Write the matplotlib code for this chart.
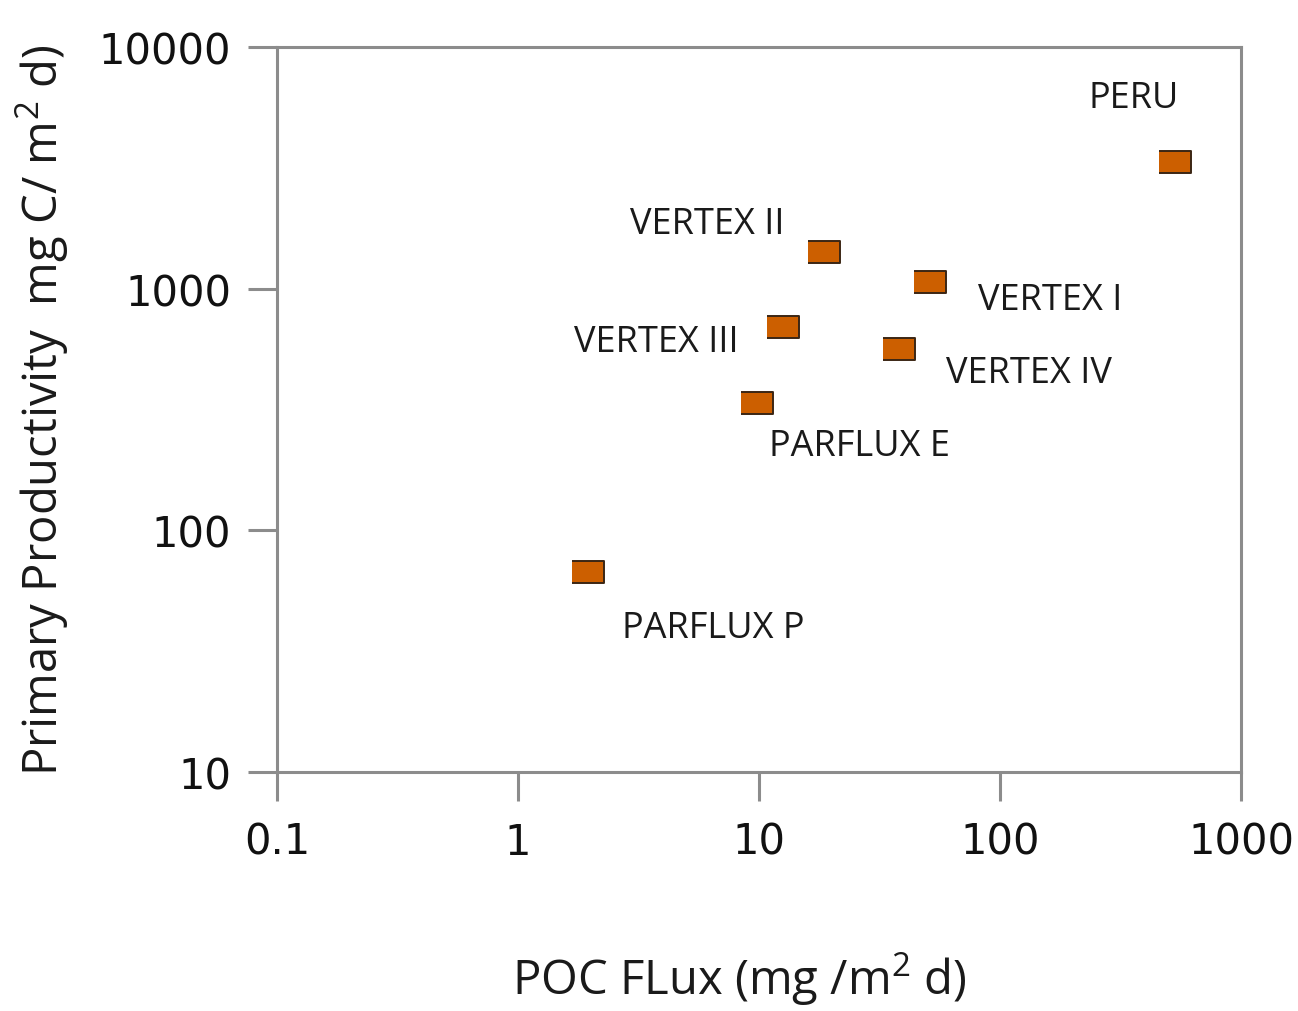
import numpy as np
import matplotlib
matplotlib.use("Agg")
from matplotlib import pyplot as plt

# data
sites = ["PERU", "VERTEX II", "VERTEX I", "VERTEX III", "VERTEX IV", "PARFLUX E", "PARFLUX P"]
poc_flux = [530, 18.6, 51, 12.6, 38, 9.8, 1.95]
prim_prod = [3330, 1420, 1070, 695, 564, 337, 67]

x_ticks = [0.1, 1, 10, 100, 1000]
x_ticklabels = ["0.1", "1", "10", "100", "1000"]
y_ticks = [10, 100, 1000, 10000]
y_ticklabels = ["10", "100", "1000", "10000"]

# label offsets in pixels (dx, dy, ha)
label_pos = {
    "PERU": (-86, 64, "left"),
    "VERTEX II": (-39, 28, "right"),
    "VERTEX I": (48, -18, "left"),
    "VERTEX III": (-45, -15, "right"),
    "VERTEX IV": (47, -24, "left"),
    "PARFLUX E": (12, -43, "left"),
    "PARFLUX P": (34, -56, "left"),
}

plt.rcParams["mathtext.default"] = "regular"
label_font = ["Open Sans", "DejaVu Sans"]
grey = "#8c8c8c"

fig = plt.figure(figsize=(12.98, 10.12), dpi=100)
ax = fig.add_axes([277 / 1298, 1 - 773 / 1012, (1241 - 277) / 1298, (773 - 48) / 1012])

rect = [(-1.45, -1), (1.45, -1), (1.45, 1), (-1.45, 1)]
ax.plot(poc_flux, prim_prod, linestyle="none", marker=rect, markersize=23,
        markerfacecolor="#cc5f00", markeredgecolor="#3b2614", markeredgewidth=1.4)

for name, x, y in zip(sites, poc_flux, prim_prod):
    dx, dy, ha = label_pos[name]
    ax.annotate(name, (x, y), xytext=(dx, dy), textcoords="offset pixels",
                ha=ha, va="center", fontsize=26, family=label_font, color="#1a1a1a")

ax.set_xscale("log")
ax.set_yscale("log")
ax.set_xlim(0.1, 1000)
ax.set_ylim(10, 10000)
ax.set_xticks(x_ticks)
ax.set_xticklabels(x_ticklabels)
ax.set_yticks(y_ticks)
ax.set_yticklabels(y_ticklabels)
ax.minorticks_off()

for s in ax.spines.values():
    s.set_color(grey)
    s.set_linewidth(2.2)

ax.tick_params(axis="both", direction="out", length=21, width=2.2, color=grey,
               labelsize=30, labelcolor="#111111")
ax.tick_params(axis="x", pad=14)
ax.tick_params(axis="y", pad=12)

ax.set_xlabel("POC FLux (mg /m$^{2}$ d)", fontsize=34, family=label_font,
              color="#1a1a1a")
ax.xaxis.set_label_coords(0.48, -0.245)
ax.set_ylabel("Primary Productivity  mg C/ m$^{2}$ d)", fontsize=34,
              family=label_font, color="#1a1a1a", labelpad=20)

plt.savefig("out.png", dpi=100)
